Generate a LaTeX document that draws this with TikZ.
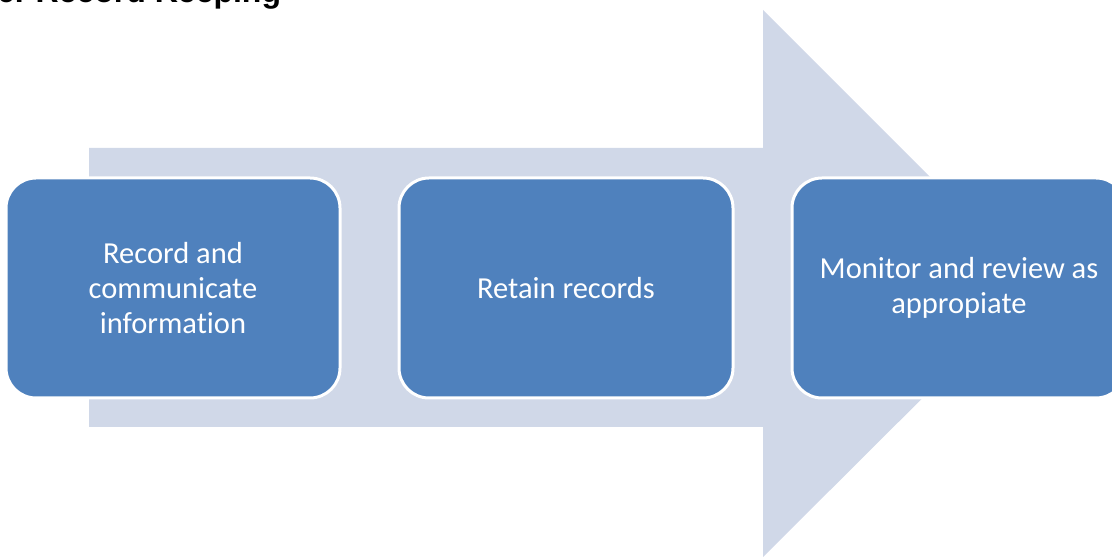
\documentclass[tikz,border=0pt]{standalone}
\usepackage{fontspec}
\setmainfont{Carlito}[Ligatures=NoCommon]
\newfontfamily\titlefont{Liberation Sans}
\usetikzlibrary{positioning}
\definecolor{taskblue}{HTML}{4F81BD}
\definecolor{arrowgrey}{HTML}{D0D8E8}

\begin{document}
\begin{tikzpicture}
[x=1pt,y=1pt,
task/.style={rectangle,rounded corners=30pt,draw=white,line width=3pt,fill=taskblue,text=white,
  minimum width=334pt,minimum height=220pt,inner sep=0pt,align=center,font=\fontsize{30.5}{35}\selectfont}]
\clip (0,0) rectangle (1112,557);
% big arrow behind the steps
\fill[arrowgrey] (89,130) -- (763,130) -- (763,0) -- (1037,273) -- (763,547) -- (763,409) -- (89,409) -- cycle;
\node[task] (record) at (173,269) {Record and\\communicate\\information};
\node[task,right=56pt of record] (retain) {Retain records};
\node[task,right=56pt of retain] (monitor) {Monitor and review as\\appropiate};
\node[anchor=base west,inner sep=0pt,font=\titlefont\bfseries\fontsize{32}{38}\selectfont] (title) at (-3,554) {6. Record Keeping};
\end{tikzpicture}
\end{document}
